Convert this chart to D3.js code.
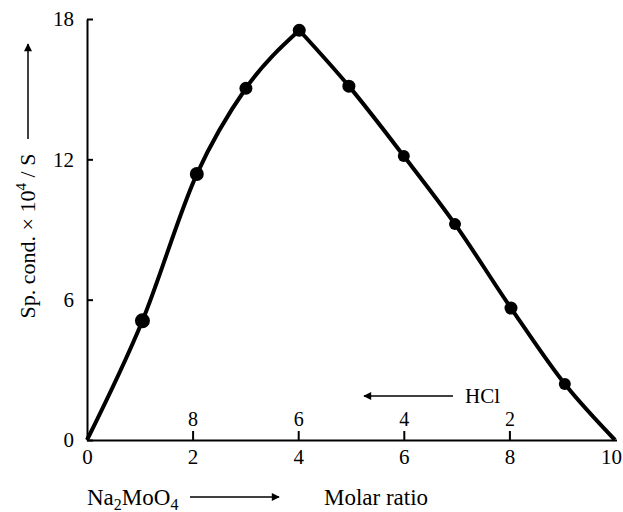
<!DOCTYPE html>
<html>
<head>
<meta charset="utf-8">
<script src="https://cdn.jsdelivr.net/npm/d3@7"></script>
<style>
  body { margin: 0; background: #fff; }
</style>
</head>
<body>
<script>
// molar ratio (Na2MoO4) and specific conductance x 10^4 / S
var ratio = [0, 1.05, 2.08, 3.01, 4.02, 4.96, 6.0, 6.97, 8.03, 9.05, 10];
var cond  = [0, 5.1, 11.37, 15.04, 17.52, 15.13, 12.14, 9.23, 5.64, 2.39, 0];
var pointSize = [0, 7.5, 7, 6.5, 6.5, 6.5, 6, 6, 6.5, 6, 0];
var xTicks = [0, 2, 4, 6, 8, 10];
var yTicks = [0, 6, 12, 18];
var hclTicks = [2, 4, 6, 8];

var width = 623, height = 512;
var margin = {top: 19, right: 8, bottom: 72, left: 87};
var serif = '"Liberation Serif", "Times New Roman", serif';

var svg = d3.select('body').append('svg')
    .attr('width', width)
    .attr('height', height);

var x = d3.scaleLinear().domain([0, 10]).range([margin.left, 615]);
var y = d3.scaleLinear().domain([0, 18]).range([440, margin.top]);

var defs = svg.append('defs');
defs.append('marker')
    .attr('id', 'arrow')
    .attr('viewBox', '0 0 10 10')
    .attr('refX', 9).attr('refY', 5)
    .attr('markerWidth', 12).attr('markerHeight', 8)
    .attr('markerUnits', 'userSpaceOnUse')
    .attr('orient', 'auto')
    .append('path')
    .attr('d', 'M0,0 L10,5 L0,10 Z')
    .attr('fill', '#000');

// y axis
var yAxis = svg.append('g')
    .attr('transform', 'translate(' + x(0) + ',0)')
    .call(d3.axisLeft(y).tickValues(yTicks).tickSize(-6).tickPadding(13).tickSizeOuter(0));
yAxis.selectAll('text').attr('font-size', '21px');

// x axis (bottom labels, no outward ticks)
var xAxis = svg.append('g')
    .attr('transform', 'translate(0,' + y(0) + ')')
    .call(d3.axisBottom(x).tickValues(xTicks).tickSize(0).tickPadding(9).tickSizeOuter(0));
xAxis.selectAll('text').attr('font-size', '21px')
    .attr('dx', function(d) { return d === 10 ? -4 : 0; });
xAxis.select('.domain').attr('d', 'M' + x(0) + ',0.5H617');

// inner ticks for HCl ratio (reversed)
var hcl = svg.append('g')
    .attr('transform', 'translate(0,' + y(0) + ')')
    .call(d3.axisTop(x).tickValues(hclTicks).tickSize(9).tickPadding(5)
        .tickFormat(function(d) { return 10 - d; }));
hcl.select('.domain').remove();
hcl.selectAll('text').attr('font-size', '20px');

svg.selectAll('.domain, .tick line').attr('stroke', '#000').attr('stroke-width', 2);

// curve: two smooth branches meeting at the peak
var line = d3.line()
    .x(function(d) { return x(d[0]); })
    .y(function(d) { return y(d[1]); })
    .curve(d3.curveMonotoneX);

var pts = ratio.map(function(r, i) { return [r, cond[i]]; });
var peak = 4;
[pts.slice(0, peak + 1), pts.slice(peak)].forEach(function(seg) {
    svg.append('path')
        .attr('d', line(seg))
        .attr('fill', 'none')
        .attr('stroke', '#000')
        .attr('stroke-width', 4)
        .attr('stroke-linejoin', 'round');
});

svg.selectAll('circle.pt')
    .data(pts.filter(function(d, i) { return pointSize[i] > 0; }))
    .enter().append('circle')
    .attr('class', 'pt')
    .attr('cx', function(d) { return x(d[0]); })
    .attr('cy', function(d) { return y(d[1]); })
    .attr('r', function(d) { return pointSize[ratio.indexOf(d[0])]; })
    .attr('fill', '#000');

// y axis title with arrow
var yt = svg.append('g').attr('transform', 'translate(35,236) rotate(-90)');
var ytext = yt.append('text')
    .attr('x', 0).attr('y', 0)
    .attr('text-anchor', 'middle')
    .attr('font-size', '22px');
ytext.append('tspan').text('Sp. cond. \u00d7 10');
ytext.append('tspan').attr('dy', -9).attr('font-size', '15px').text('4');
ytext.append('tspan').attr('dy', 9).text(' / S');
yt.append('line')
    .attr('x1', 97).attr('x2', 192)
    .attr('y1', -7).attr('y2', -7)
    .attr('stroke', '#000').attr('stroke-width', 1.5)
    .attr('marker-end', 'url(#arrow)');

// HCl label with left arrow
svg.append('line')
    .attr('x1', 453).attr('x2', 364)
    .attr('y1', 396).attr('y2', 396)
    .attr('stroke', '#000').attr('stroke-width', 1.5)
    .attr('marker-end', 'url(#arrow)');
svg.append('text')
    .attr('x', 465).attr('y', 403)
    .attr('font-size', '21px')
    .text('HCl');

// Na2MoO4 label with right arrow
var na = svg.append('text')
    .attr('x', 87).attr('y', 505)
    .attr('font-size', '23px');
na.append('tspan').text('Na');
na.append('tspan').attr('dy', 5).attr('font-size', '16px').text('2');
na.append('tspan').attr('dy', -5).text('MoO');
na.append('tspan').attr('dy', 5).attr('font-size', '16px').text('4');
svg.append('line')
    .attr('x1', 190).attr('x2', 279)
    .attr('y1', 497).attr('y2', 497)
    .attr('stroke', '#000').attr('stroke-width', 1.5)
    .attr('marker-end', 'url(#arrow)');
svg.append('text')
    .attr('x', 324).attr('y', 505)
    .attr('font-size', '23px')
    .text('Molar ratio');

// one serif face for every label
svg.selectAll('text').style('font-family', serif).attr('fill', '#000');
</script>
</body>
</html>
